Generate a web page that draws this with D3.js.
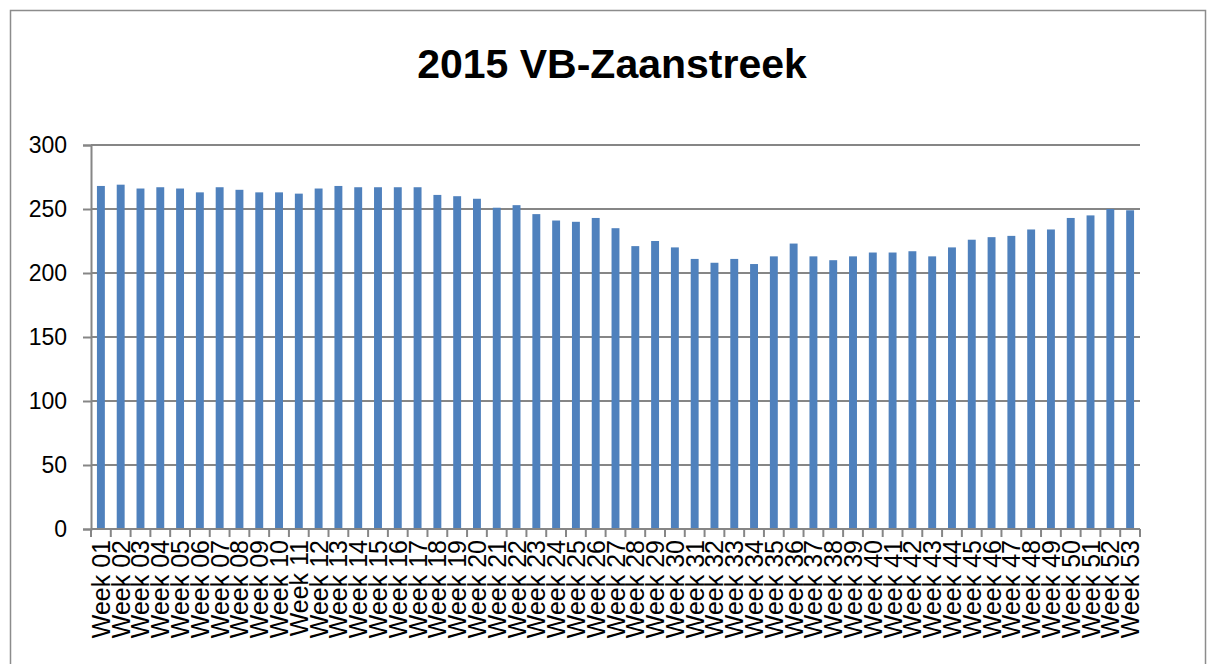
<!DOCTYPE html>
<html>
<head>
<meta charset="utf-8">
<script src="https://cdn.jsdelivr.net/npm/d3@7"></script>
<style>
    body { margin: 0; background: #fff; }
    text { font-family: "Liberation Sans", Arial, sans-serif; }
</style>
</head>
<body>
<script>
var weeks = d3.range(1, 54).map(function (n) {
    return "Week " + (n < 10 ? "0" + n : n);
});
var counts = [268, 269, 266, 267, 266, 263, 267, 265, 263, 263,
              262, 266, 268, 267, 267, 267, 267, 261, 260, 258,
              251, 253, 246, 241, 240, 243, 235, 221, 225, 220,
              211, 208, 211, 207, 213, 223, 213, 210, 213, 216,
              216, 217, 213, 220, 226, 228, 229, 234, 234, 243,
              245, 250, 249];
var yTicks = [0, 50, 100, 150, 200, 250, 300];

var w = 1216;
var h = 664;
var plotLeft = 91, plotRight = 1140, plotTop = 145, plotBottom = 529;

var svg = d3.select("body")
    .append("svg")
    .attr("width", w)
    .attr("height", h);

// chart frame
svg.append("rect")
    .attr("x", 10.5)
    .attr("y", 10.5)
    .attr("width", 1195)
    .attr("height", 670)
    .attr("fill", "none")
    .attr("stroke", "#8c8c8c")
    .attr("stroke-width", 1.5);

svg.append("text")
    .attr("x", 612)
    .attr("y", 78)
    .attr("text-anchor", "middle")
    .attr("font-size", 41)
    .attr("font-weight", "bold")
    .text("2015 VB-Zaanstreek");

var xScale = d3.scaleBand()
    .domain(weeks)
    .range([plotLeft, plotRight])
    .paddingInner(0.6)
    .paddingOuter(0.3);

var yScale = d3.scaleLinear()
    .domain([0, 300])
    .range([plotBottom, plotTop]);

// y axis with outside ticks
var yAxis = svg.append("g")
    .attr("transform", "translate(" + plotLeft + ",0)")
    .call(d3.axisLeft(yScale)
        .tickValues(yTicks)
        .tickSize(8)
        .tickPadding(16));
yAxis.select(".domain").attr("stroke", "#868686").attr("stroke-width", 2);
yAxis.selectAll(".tick line").attr("stroke", "#868686").attr("stroke-width", 2);
yAxis.selectAll(".tick text").attr("font-size", 23).attr("fill", "#000");

// gridlines
svg.append("g")
    .selectAll("line")
    .data(yTicks.slice(1))
    .enter()
    .append("line")
    .attr("x1", plotLeft)
    .attr("x2", plotRight)
    .attr("y1", function (d) { return yScale(d); })
    .attr("y2", function (d) { return yScale(d); })
    .attr("stroke", "#868686")
    .attr("stroke-width", 2);

svg.append("g")
    .selectAll("rect")
    .data(counts)
    .enter()
    .append("rect")
    .attr("fill", "#4f81bd")
    .attr("x", function (d, i) { return xScale(weeks[i]); })
    .attr("y", function (d) { return yScale(d); })
    .attr("width", xScale.bandwidth())
    .attr("height", function (d) { return plotBottom - yScale(d); });

// x axis line and boundary ticks
var step = xScale.step();
var bounds = d3.range(weeks.length + 1).map(function (i) {
    return xScale(weeks[0]) - step * 0.3 + i * step;
});
svg.append("line")
    .attr("x1", plotLeft)
    .attr("x2", plotRight)
    .attr("y1", plotBottom)
    .attr("y2", plotBottom)
    .attr("stroke", "#868686")
    .attr("stroke-width", 2);
svg.append("g")
    .selectAll("line")
    .data(bounds)
    .enter()
    .append("line")
    .attr("x1", function (d) { return d; })
    .attr("x2", function (d) { return d; })
    .attr("y1", plotBottom)
    .attr("y2", plotBottom + 8)
    .attr("stroke", "#868686")
    .attr("stroke-width", 2);

svg.append("g")
    .selectAll("text")
    .data(weeks)
    .enter()
    .append("text")
    .attr("transform", function (d) {
        return "translate(" + (xScale(d) + xScale.bandwidth() / 2 + 9) + "," + (plotBottom + 11) + ") rotate(-90)";
    })
    .attr("text-anchor", "end")
    .attr("font-size", 25)
    .text(function (d) { return d; });
</script>
</body>
</html>
